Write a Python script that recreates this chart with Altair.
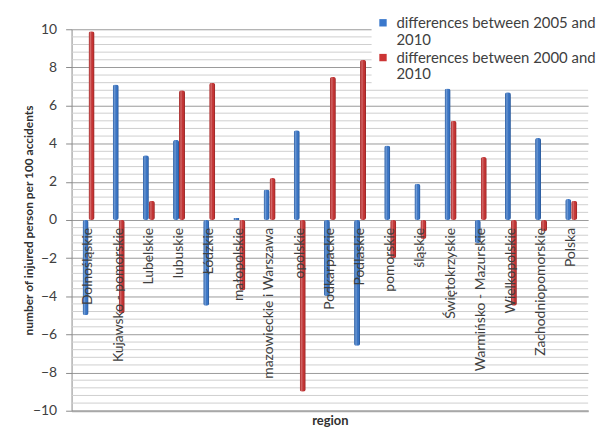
import altair as alt
import pandas as pd

regions = ["Dolnośląskie", "Kujawsko - pomorskie", "Lubelskie", "lubuskie", "Łódzkie",
           "małopolskie", "mazowieckie i Warszawa", "opolskie", "Podkarpackie", "Podlaskie",
           "pomorskie", "śląskie", "Świętokrzyskie", "Warmińsko - Mazurskie", "Wielkopolskie",
           "Zachodniopomorskie", "Polska"]
diff_2005_2010 = [-5.0, 7.1, 3.4, 4.2, -4.5, 0.1, 1.6, 4.7, -4.0, -6.6, 3.9, 1.9, 6.9, -1.2, 6.7, 4.3, 1.1]
diff_2000_2010 = [9.9, -4.9, 1.0, 6.8, 7.2, -3.7, 2.2, -9.0, 7.5, 8.4, -2.0, -1.0, 5.2, 3.3, -4.5, -0.6, 1.0]
series_names = ["differences between  2005 and|2010", "differences between   2000 and|2010"]
series_colors = ["#3a78cc", "#cc3535"]
y_ticks = list(range(-10, 11, 2))
minor_grid = [round(-10 + 0.4 * i, 1) for i in range(51) if i % 5 != 0]

FONT = "Lato"
TXT = "#404040"
Y_TITLE = "number of injured person per 100 accidents"

rows = []
for r, a, b in zip(regions, diff_2005_2010, diff_2000_2010):
    rows.append({"region": r, "series": series_names[0], "value": a})
    rows.append({"region": r, "series": series_names[1], "value": b})
df = pd.DataFrame(rows)
label_df = pd.DataFrame({"region": regions, "value": [0] * len(regions)})
grid_df = pd.DataFrame({"value": minor_grid})

x_scale = alt.Scale(paddingInner=0.604, paddingOuter=0.363)
y_scale = alt.Scale(domain=[-10, 10], nice=False)

x_axis = alt.Axis(title="region", labels=False, ticks=False, domain=True)
y_axis = alt.Axis(values=y_ticks, title=Y_TITLE)

minor = alt.Chart(grid_df).mark_rule(color="#cfcfcf", strokeWidth=1).encode(
    y=alt.Y("value:Q", scale=y_scale, axis=y_axis)
)

base = alt.Chart(df).encode(
    x=alt.X("region:N", sort=regions, scale=x_scale, axis=x_axis),
    xOffset=alt.XOffset("series:N", sort=series_names,
                        scale=alt.Scale(domain=series_names, paddingInner=0, paddingOuter=0)),
    y=alt.Y("value:Q", scale=y_scale, axis=y_axis),
)

bars = base.mark_bar(cornerRadius=2.5).encode(
    color=alt.Color("series:N", sort=series_names,
                    scale=alt.Scale(domain=series_names, range=series_colors),
                    legend=alt.Legend(title=None, orient="none", legendX=302, legendY=-18,
                                      fillColor="white", padding=4,
                                      labelExpr="split(datum.label, '|')",
                                      labelFont=FONT, labelFontSize=15, labelColor=TXT,
                                      labelLimit=400, symbolType="square", symbolSize=55,
                                      symbolStrokeWidth=0, rowPadding=2, labelOffset=6))
)

shade = base.mark_bar(cornerRadius=2.5, fill={
    "gradient": "linear", "x1": 0, "x2": 1, "y1": 0, "y2": 0,
    "stops": [
        {"offset": 0, "color": "rgba(0,0,0,0.18)"},
        {"offset": 0.35, "color": "rgba(255,255,255,0.28)"},
        {"offset": 0.7, "color": "rgba(0,0,0,0.0)"},
        {"offset": 1, "color": "rgba(0,0,0,0.30)"},
    ]})

labels = alt.Chart(label_df).mark_text(
    angle=270, align="right", baseline="middle", dx=-8,
    font=FONT, fontSize=14, color=TXT
).encode(
    x=alt.X("region:N", sort=regions, scale=x_scale, axis=x_axis),
    y=alt.Y("value:Q", scale=y_scale, axis=y_axis),
    text="region:N",
)

chart = alt.layer(minor, bars, shade, labels).properties(
    width=520, height=384,
    padding={"left": 14, "top": 2, "right": 0, "bottom": 0},
).configure_view(stroke=None).configure_axisY(
    labelFont=FONT, labelFontSize=14, labelColor=TXT, labelPadding=9,
    labelOverlap=False, labelFlush=False,
    tickSize=6, tickColor="#8a8a8a", domainColor="#8a8a8a",
    grid=True, gridColor="#9a9a9a",
    titleFont=FONT, titleFontSize=12, titleFontWeight="bold",
    titleColor="#303030", titlePadding=-3,
).configure_axisX(
    domainColor="#a8a8a8", domainWidth=2, grid=False,
    titleFont=FONT, titleFontSize=13, titleFontWeight="bold",
    titleColor="#303030", titlePadding=4,
)

chart.save("out.html", embed_options={"renderer": "svg", "actions": False})
